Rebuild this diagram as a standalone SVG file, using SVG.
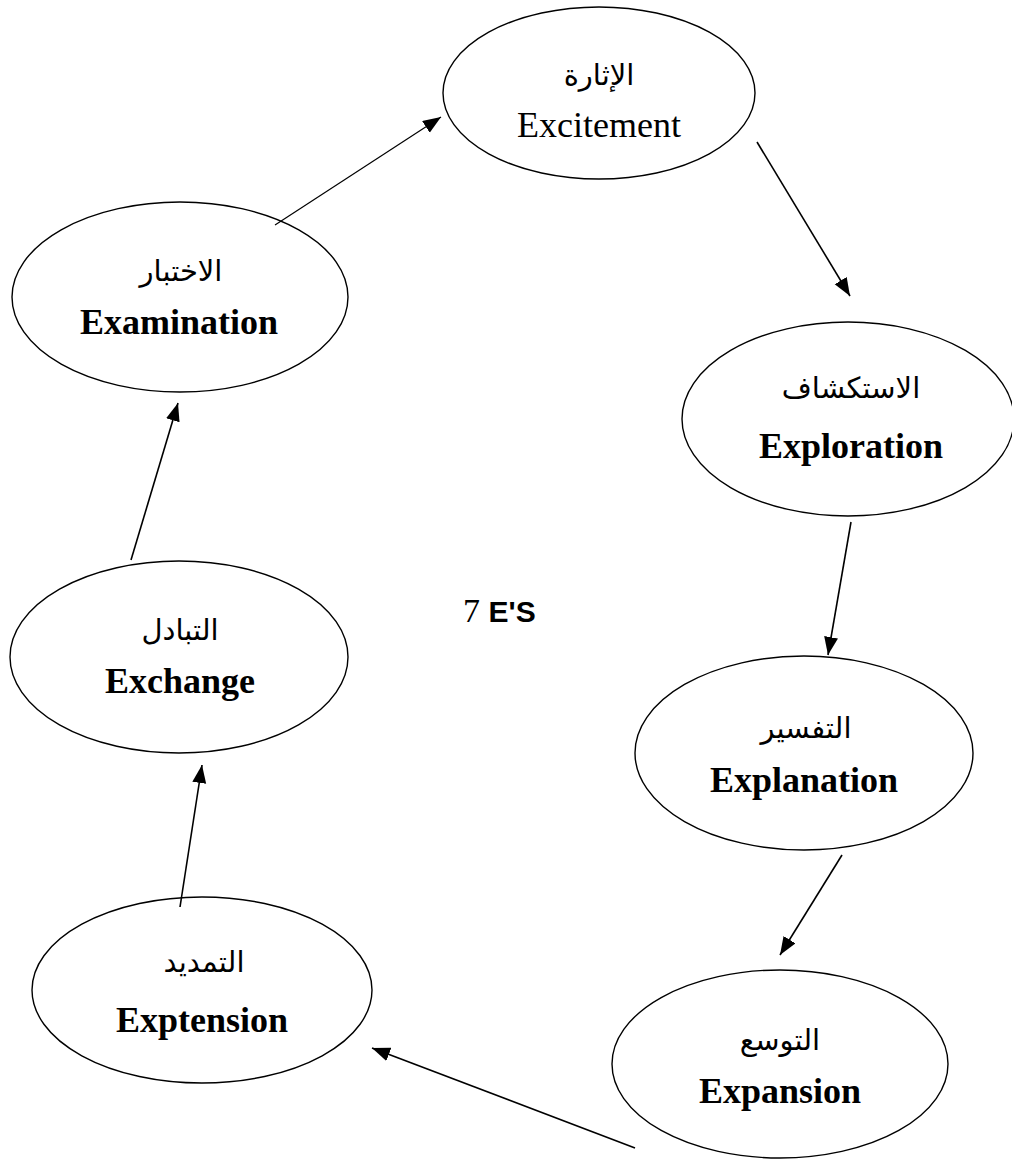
<svg xmlns="http://www.w3.org/2000/svg" width="1012" height="1160" viewBox="0 0 1012 1160">
<style>
.node ellipse{fill:#fff;stroke:#000;stroke-width:1.4}
.ar{font-family:"DejaVu Sans",sans-serif;font-size:29px;text-anchor:middle;fill:#000}
.en{font-family:"Liberation Serif",serif;font-size:36px;text-anchor:middle;fill:#000}
.b{font-weight:bold}
.conn line{stroke:#000;stroke-width:1.6;fill:none}
</style>
<defs>
<marker id="ah" markerUnits="userSpaceOnUse" markerWidth="19" markerHeight="15" refX="18" refY="7" orient="auto">
<path d="M0,0 L18,7 L0,14 z" fill="#000"/>
</marker>
</defs>
<rect width="1012" height="1160" fill="#fff"/>
<g id="excitement" class="node">
<ellipse cx="599" cy="93" rx="156" ry="86"/>
<text class="ar" x="599" y="85" direction="rtl">الإثارة</text>
<text class="en" x="599" y="137">Excitement</text>
</g>
<g id="exploration" class="node">
<ellipse cx="848" cy="419" rx="166" ry="97"/>
<text class="ar" x="851" y="398" direction="rtl">الاستكشاف</text>
<text class="en b" x="851" y="458">Exploration</text>
</g>
<g id="explanation" class="node">
<ellipse cx="804" cy="753" rx="169" ry="97"/>
<text class="ar" x="806" y="738" direction="rtl">التفسير</text>
<text class="en b" x="804" y="792">Explanation</text>
</g>
<g id="expansion" class="node">
<ellipse cx="780" cy="1064" rx="168" ry="94"/>
<text class="ar" x="780" y="1050" direction="rtl">التوسع</text>
<text class="en b" x="780" y="1103">Expansion</text>
</g>
<g id="exptension" class="node">
<ellipse cx="202" cy="990" rx="170" ry="93"/>
<text class="ar" x="204" y="972" direction="rtl">التمديد</text>
<text class="en b" x="202" y="1032">Exptension</text>
</g>
<g id="exchange" class="node">
<ellipse cx="179" cy="657" rx="169" ry="96"/>
<text class="ar" x="180" y="640" direction="rtl">التبادل</text>
<text class="en b" x="180" y="693">Exchange</text>
</g>
<g id="examination" class="node">
<ellipse cx="180" cy="297" rx="168" ry="95"/>
<text class="ar" x="181" y="281" direction="rtl">الاختبار</text>
<text class="en b" x="179" y="334">Examination</text>
</g>
<g id="title">
<text x="463" y="622" font-family="Liberation Serif,serif" font-size="34px">7 <tspan font-family="Liberation Sans,sans-serif" font-weight="bold" font-size="30px">E'S</tspan></text>
</g>
<g id="connectors" class="conn">
<line x1="275" y1="225" x2="441" y2="117" marker-end="url(#ah)" style="stroke-width:1.2"/>
<line x1="757" y1="142" x2="850" y2="296" marker-end="url(#ah)"/>
<line x1="851" y1="522" x2="828" y2="655" marker-end="url(#ah)"/>
<line x1="842" y1="855" x2="780" y2="955" marker-end="url(#ah)"/>
<line x1="635" y1="1148" x2="372" y2="1048" marker-end="url(#ah)"/>
<line x1="131" y1="560" x2="178" y2="403" marker-end="url(#ah)"/>
<line x1="180" y1="907" x2="202" y2="765" marker-end="url(#ah)"/>
</g>
</svg>
